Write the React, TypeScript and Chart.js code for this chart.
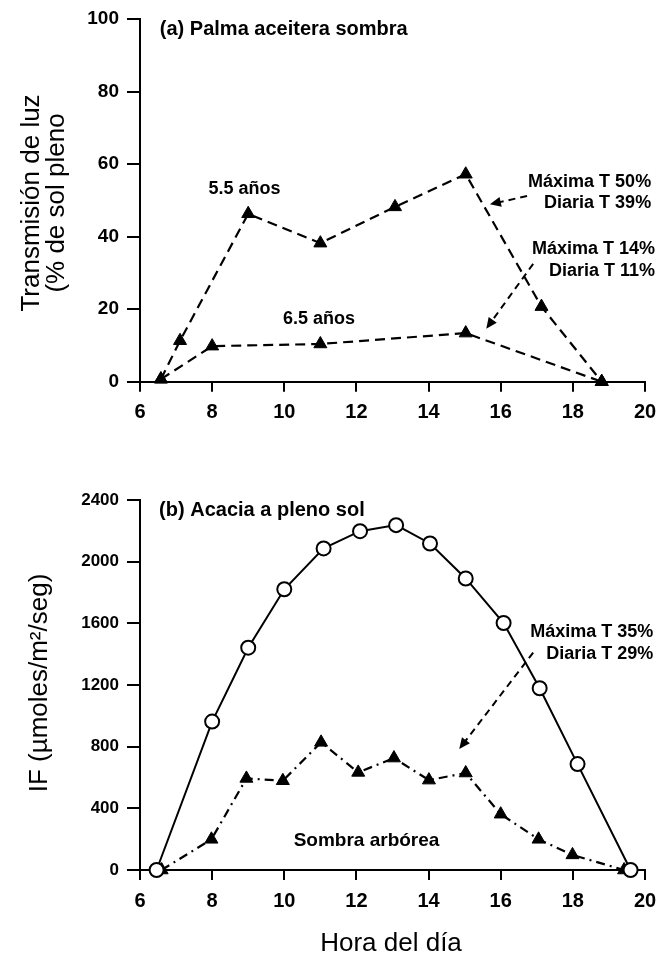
import { useEffect, useRef } from "react";
import { Chart, registerables } from "chart.js";

Chart.register(...registerables);

const FONT = "'Liberation Sans', Arial, Helvetica, sans-serif";

// ---- Data (a) Palma aceitera sombra ----
const hours55 = [6.58, 7.11, 9.0, 11.0, 13.07, 15.03, 17.13, 18.8];
const trans55 = [0.7, 11.3, 46.3, 38.2, 48.2, 57.2, 20.7, 0];
const hours65 = [6.58, 8.0, 11.0, 15.03, 18.8];
const trans65 = [0.7, 9.8, 10.4, 13.4, 0];

// ---- Data (b) Acacia a pleno sol ----
const hoursSun = [6.46, 8.0, 9.0, 10.0, 11.09, 12.1, 13.1, 14.04, 15.03, 16.08, 17.08, 18.13, 19.6];
const ifSun = [0, 963, 1442, 1821, 2086, 2198, 2237, 2118, 1891, 1602, 1179, 687, 0];
const hoursShade = [6.6, 7.98, 8.95, 9.96, 11.02, 12.05, 13.04, 14.01, 15.03, 16.0, 17.05, 17.99, 19.42];
const ifShade = [0, 199, 594, 579, 828, 633, 726, 583, 629, 362, 199, 98, 0];

// ---- Ticks ----
const xTicks = [6, 8, 10, 12, 14, 16, 18, 20];
const yTicksA = [0, 20, 40, 60, 80, 100];
const yTicksB = [0, 400, 800, 1200, 1600, 2000, 2400];

// ---- Annotations ----
type Txt = { text: string; x: number; y: number; align: CanvasTextAlign; font: string };
type Arrow = { x1: number; y1: number; x2: number; y2: number };

const textsA: Txt[] = [
  { text: "(a) Palma aceitera sombra", x: 6.55, y: 97.1, align: "left", font: `bold 20px ${FONT}` },
  { text: "5.5 años", x: 8.9, y: 53.0, align: "center", font: `bold 18px ${FONT}` },
  { text: "6.5 años", x: 10.96, y: 17.3, align: "center", font: `bold 18px ${FONT}` },
  { text: "Máxima T 50%", x: 20.17, y: 55.0, align: "right", font: `bold 18px ${FONT}` },
  { text: "Diaria T 39%", x: 20.17, y: 49.3, align: "right", font: `bold 18px ${FONT}` },
  { text: "Máxima T 14%", x: 20.28, y: 36.6, align: "right", font: `bold 18px ${FONT}` },
  { text: "Diaria T 11%", x: 20.28, y: 30.4, align: "right", font: `bold 18px ${FONT}` },
];
const arrowsA: Arrow[] = [
  { x1: 16.73, y1: 51.2, x2: 15.7, y2: 48.9 },
  { x1: 16.9, y1: 32.5, x2: 15.6, y2: 14.6 },
];

const textsB: Txt[] = [
  { text: "(b) Acacia a pleno sol", x: 6.53, y: 2335, align: "left", font: `bold 20px ${FONT}` },
  { text: "Máxima T 35%", x: 20.23, y: 1544, align: "right", font: `bold 18px ${FONT}` },
  { text: "Diaria T 29%", x: 20.23, y: 1403, align: "right", font: `bold 18px ${FONT}` },
  { text: "Sombra arbórea", x: 12.28, y: 189, align: "center", font: `bold 19px ${FONT}` },
];
const arrowsB: Arrow[] = [{ x1: 16.9, y1: 1410, x2: 14.85, y2: 785 }];

type Title = { lines: string[]; x: number; y: number; rotate: boolean; font: string; lh: number };

const titlesA: Title[] = [
  { lines: ["Transmisión de luz", "(% de sol pleno"], x: 44.5, y: 203, rotate: true, font: `26px ${FONT}`, lh: 25 },
];
const titlesB: Title[] = [
  { lines: ["IF (µmoles/m²/seg)"], x: 40, y: 243, rotate: true, font: `26px ${FONT}`, lh: 25 },
  { lines: ["Hora del día"], x: 391, y: 504, rotate: false, font: `26px ${FONT}`, lh: 26 },
];

function makeAnnotPlugin(texts: Txt[], arrows: Arrow[], titles: Title[]) {
  return {
    id: "annot",
    afterDraw(chart: any) {
      const ctx: CanvasRenderingContext2D = chart.ctx;
      const xs = chart.scales.x;
      const ys = chart.scales.y;
      ctx.save();
      ctx.fillStyle = "#000";
      ctx.strokeStyle = "#000";
      ctx.textBaseline = "middle";
      for (const t of texts) {
        ctx.font = t.font;
        ctx.textAlign = t.align;
        ctx.fillText(t.text, xs.getPixelForValue(t.x), ys.getPixelForValue(t.y));
      }
      for (const a of arrows) {
        const x1 = xs.getPixelForValue(a.x1);
        const y1 = ys.getPixelForValue(a.y1);
        const x2 = xs.getPixelForValue(a.x2);
        const y2 = ys.getPixelForValue(a.y2);
        const ang = Math.atan2(y2 - y1, x2 - x1);
        const hl = 11;
        const hw = 5;
        const bx = x2 - Math.cos(ang) * hl;
        const by = y2 - Math.sin(ang) * hl;
        ctx.lineWidth = 2;
        ctx.setLineDash([7, 5]);
        ctx.beginPath();
        ctx.moveTo(x1, y1);
        ctx.lineTo(bx + Math.cos(ang) * 2, by + Math.sin(ang) * 2);
        ctx.stroke();
        ctx.setLineDash([]);
        ctx.beginPath();
        ctx.moveTo(x2, y2);
        ctx.lineTo(bx - Math.sin(ang) * hw, by + Math.cos(ang) * hw);
        ctx.lineTo(bx + Math.sin(ang) * hw, by - Math.cos(ang) * hw);
        ctx.closePath();
        ctx.fill();
      }
      for (const t of titles) {
        ctx.font = t.font;
        ctx.textAlign = "center";
        ctx.save();
        ctx.translate(t.x, t.y);
        if (t.rotate) ctx.rotate(-Math.PI / 2);
        const n = t.lines.length;
        t.lines.forEach((line, i) => {
          ctx.fillText(line, 0, (i - (n - 1) / 2) * t.lh);
        });
        ctx.restore();
      }
      ctx.restore();
    },
  };
}

function xScale(axisHeight: number, fontSize: number) {
  return {
    type: "linear" as const,
    min: 6,
    max: 20,
    afterBuildTicks: (s: any) => {
      s.ticks = xTicks.map((v) => ({ value: v }));
    },
    afterFit: (s: any) => {
      s.height = axisHeight;
      s.paddingLeft = 0;
      s.paddingRight = 0;
    },
    grid: { drawOnChartArea: false, drawTicks: true, tickLength: 10, color: "#000", lineWidth: 2 },
    border: { display: true, color: "#000", width: 2 },
    ticks: {
      color: "#000",
      font: { family: FONT, size: fontSize, weight: "bold" as const },
      padding: 9,
      maxRotation: 0,
      autoSkip: false,
      callback: (v: any) => String(v),
    },
  };
}

function yScale(max: number, ticks: number[], fontSize: number) {
  return {
    type: "linear" as const,
    min: 0,
    max,
    afterBuildTicks: (s: any) => {
      s.ticks = ticks.map((v) => ({ value: v }));
    },
    afterFit: (s: any) => {
      s.width = 140;
      s.paddingTop = 0;
      s.paddingBottom = 0;
    },
    grid: { drawOnChartArea: false, drawTicks: true, tickLength: 13, color: "#000", lineWidth: 2 },
    border: { display: true, color: "#000", width: 2 },
    ticks: {
      color: "#000",
      font: { family: FONT, size: fontSize, weight: "bold" as const },
      padding: 8,
      autoSkip: false,
      callback: (v: any) => String(v),
    },
  };
}

const pts = (xs: number[], ys: number[]) => xs.map((x, i) => ({ x, y: ys[i] }));

export default function App() {
  const topRef = useRef<HTMLCanvasElement>(null);
  const botRef = useRef<HTMLCanvasElement>(null);

  useEffect(() => {
    const triStyle = {
      pointStyle: "triangle" as const,
      pointRadius: 7.5,
      pointBackgroundColor: "#000",
      pointBorderColor: "#000",
      pointBorderWidth: 1,
      borderColor: "#000",
      borderWidth: 2.2,
      fill: false,
      tension: 0,
      clip: false as const,
    };

    const c1 = new Chart(topRef.current!, {
      type: "line",
      data: {
        datasets: [
          { label: "5.5 años", data: pts(hours55, trans55), borderDash: [10, 6], ...triStyle },
          { label: "6.5 años", data: pts(hours65, trans65), borderDash: [10, 6], ...triStyle },
        ],
      },
      options: {
        animation: false,
        responsive: false,
        devicePixelRatio: 1,
        layout: { padding: { top: 19, right: 15, bottom: 0, left: 0 } },
        plugins: { legend: { display: false }, tooltip: { enabled: false } },
        scales: { x: xScale(58.3, 20), y: yScale(100, yTicksA, 19) },
      },
      plugins: [makeAnnotPlugin(textsA, arrowsA, titlesA)],
    } as any);

    const c2 = new Chart(botRef.current!, {
      type: "line",
      data: {
        datasets: [
          {
            label: "Pleno sol",
            data: pts(hoursSun, ifSun),
            pointStyle: "circle",
            pointRadius: 7,
            pointBackgroundColor: "#fff",
            pointBorderColor: "#000",
            pointBorderWidth: 2,
            borderColor: "#000",
            borderWidth: 2,
            fill: false,
            tension: 0,
            clip: false,
          },
          { label: "Sombra arbórea", data: pts(hoursShade, ifShade), borderDash: [9, 5, 2, 5], ...triStyle },
        ],
      },
      options: {
        animation: false,
        responsive: false,
        devicePixelRatio: 1,
        layout: { padding: { top: 60, right: 15, bottom: 0, left: 0 } },
        plugins: { legend: { display: false }, tooltip: { enabled: false } },
        scales: { x: xScale(92, 20), y: yScale(2400, yTicksB, 17) },
      },
      plugins: [makeAnnotPlugin(textsB, arrowsB, titlesB)],
    } as any);

    return () => {
      c1.destroy();
      c2.destroy();
    };
  }, []);

  return (
    <div style={{ position: "absolute", left: 0, top: 0, width: 660, height: 962, background: "#fff" }}>
      <canvas ref={topRef} width={660} height={440} style={{ display: "block", width: 660, height: 440 }} />
      <canvas ref={botRef} width={660} height={522} style={{ display: "block", width: 660, height: 522 }} />
    </div>
  );
}
